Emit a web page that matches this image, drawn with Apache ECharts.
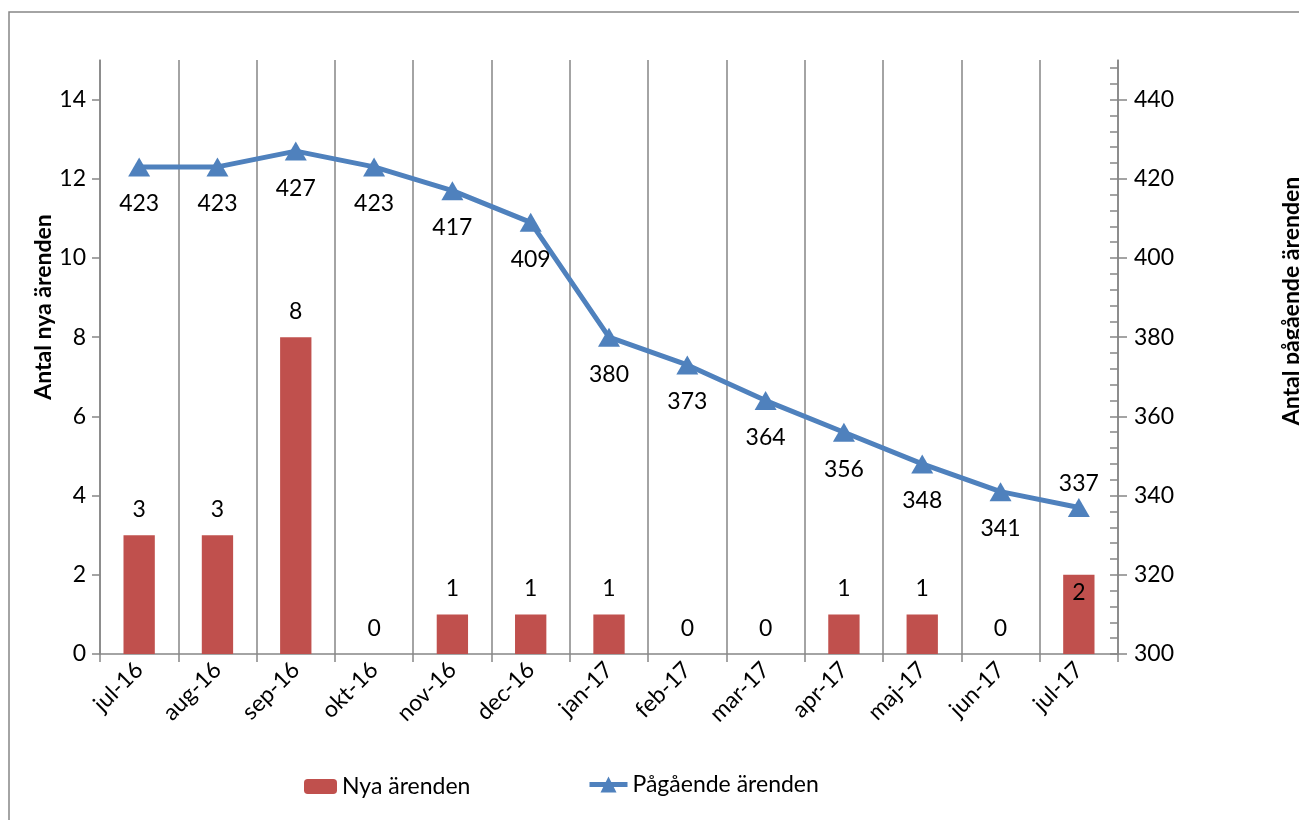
<!DOCTYPE html>
<html>
<head>
<meta charset="utf-8">
<script src="https://cdn.jsdelivr.net/npm/echarts@6/dist/echarts.min.js"></script>
<style>
  html, body { margin: 0; padding: 0; background: #fff; }
  #chart { width: 1299px; height: 820px; }
</style>
</head>
<body>
<div id="chart"></div>
<script>
// Chart data
const months = ['jul-16', 'aug-16', 'sep-16', 'okt-16', 'nov-16', 'dec-16', 'jan-17',
  'feb-17', 'mar-17', 'apr-17', 'maj-17', 'jun-17', 'jul-17'];
const nyaArenden = [3, 3, 8, 0, 1, 1, 1, 0, 0, 1, 1, 0, 2];
const pagaendeArenden = [423, 423, 427, 423, 417, 409, 380, 373, 364, 356, 348, 341, 337];
const leftTicks = [0, 2, 4, 6, 8, 10, 12, 14];
const rightTicks = [300, 320, 340, 360, 380, 400, 420, 440];

// minor ticks on the right axis, every 4 units
const rightMinorTicks = [];
for (let v = 300; v < 450; v += 4) rightMinorTicks.push(v);

const FONT = 'Lato, "Open Sans", sans-serif';
const GREY = '#868686';
const textStyle = { fontFamily: FONT, fontSize: 23, color: '#000' };

const chart = echarts.init(document.getElementById('chart'), null, { renderer: 'canvas' });

const option = {
  animation: false,
  backgroundColor: '#fff',
  textStyle: { fontFamily: FONT },
  graphic: [{
    type: 'rect',
    shape: { x: 9, y: 12, width: 1320, height: 840 },
    style: { fill: 'none', stroke: GREY, lineWidth: 1.5 },
    silent: true,
    z: -1
  }],
  grid: { left: 100, right: 181, top: 60, bottom: 166, containLabel: false, outerBoundsMode: 'none' },
  legend: [
    {
      left: 299, top: 770,
      itemWidth: 33, itemHeight: 15,
      textStyle: { ...textStyle },
      data: ['Nya ärenden']
    },
    {
      left: 582, top: 768,
      itemWidth: 38, itemHeight: 20,
      itemGap: 4,
      lineStyle: { width: 5 },
      textStyle: { ...textStyle },
      data: ['Pågående ärenden']
    }
  ],
  xAxis: {
    type: 'category',
    data: months,
    boundaryGap: true,
    axisLine: { lineStyle: { color: GREY, width: 1.5 } },
    axisTick: { show: true, length: 8, lineStyle: { color: GREY, width: 1.5 } },
    axisLabel: { ...textStyle, rotate: 45, margin: 12, interval: 0 },
    splitLine: { show: true, lineStyle: { color: GREY, width: 1.5 } }
  },
  yAxis: [
    {
      type: 'value',
      min: 0, max: 15,
      position: 'left',
      name: 'Antal nya ärenden',
      nameLocation: 'middle',
      nameGap: 45,
      nameMoveOverlap: false,
      nameTextStyle: { ...textStyle, fontWeight: 'bold', padding: [0, 0, 0, 100] },
      axisLine: { show: true, lineStyle: { color: GREY, width: 1.5 } },
      axisTick: { show: true, length: 8, customValues: leftTicks, lineStyle: { color: GREY, width: 1.5 } },
      axisLabel: { ...textStyle, margin: 14, customValues: leftTicks },
      splitLine: { show: false }
    },
    {
      type: 'value',
      min: 300, max: 450,
      position: 'right',
      name: 'Antal pågående ärenden',
      nameLocation: 'middle',
      nameGap: 162,
      nameMoveOverlap: false,
      nameTextStyle: { ...textStyle, fontWeight: 'bold', padding: [0, 0, 0, 112] },
      axisLine: { show: true, lineStyle: { color: GREY, width: 1.5 } },
      axisTick: { show: true, length: 9, customValues: rightTicks, lineStyle: { color: GREY, width: 1.5 } },
      axisLabel: { ...textStyle, margin: 16, customValues: rightTicks },
      splitLine: { show: false }
    },
    {
      type: 'value',
      min: 300, max: 450,
      position: 'right',
      axisLine: { show: false },
      axisTick: { show: true, inside: true, length: 8, customValues: rightMinorTicks, lineStyle: { color: GREY, width: 1.5 } },
      axisLabel: { show: false },
      splitLine: { show: false }
    }
  ],
  series: [
    {
      name: 'Nya ärenden',
      type: 'bar',
      yAxisIndex: 0,
      barWidth: '40%',
      itemStyle: { color: '#C0504D' },
      label: {
        show: true,
        position: 'top',
        distance: 14,
        ...textStyle
      },
      data: nyaArenden.map((v, i) => i === nyaArenden.length - 1
        ? { value: v, label: { position: 'insideTop', distance: 6 } }
        : v),
      z: 2
    },
    {
      name: 'Pågående ärenden',
      type: 'line',
      yAxisIndex: 1,
      symbol: 'triangle',
      symbolSize: [22, 19],
      lineStyle: { color: '#4F81BD', width: 5 },
      itemStyle: { color: '#4F81BD' },
      label: {
        show: true,
        position: 'bottom',
        distance: 16,
        ...textStyle
      },
      data: pagaendeArenden.map((v, i) => i === pagaendeArenden.length - 1
        ? { value: v, label: { position: 'top', distance: 3 } }
        : v),
      z: 3
    }
  ]
};

chart.setOption(option);
</script>
</body>
</html>
